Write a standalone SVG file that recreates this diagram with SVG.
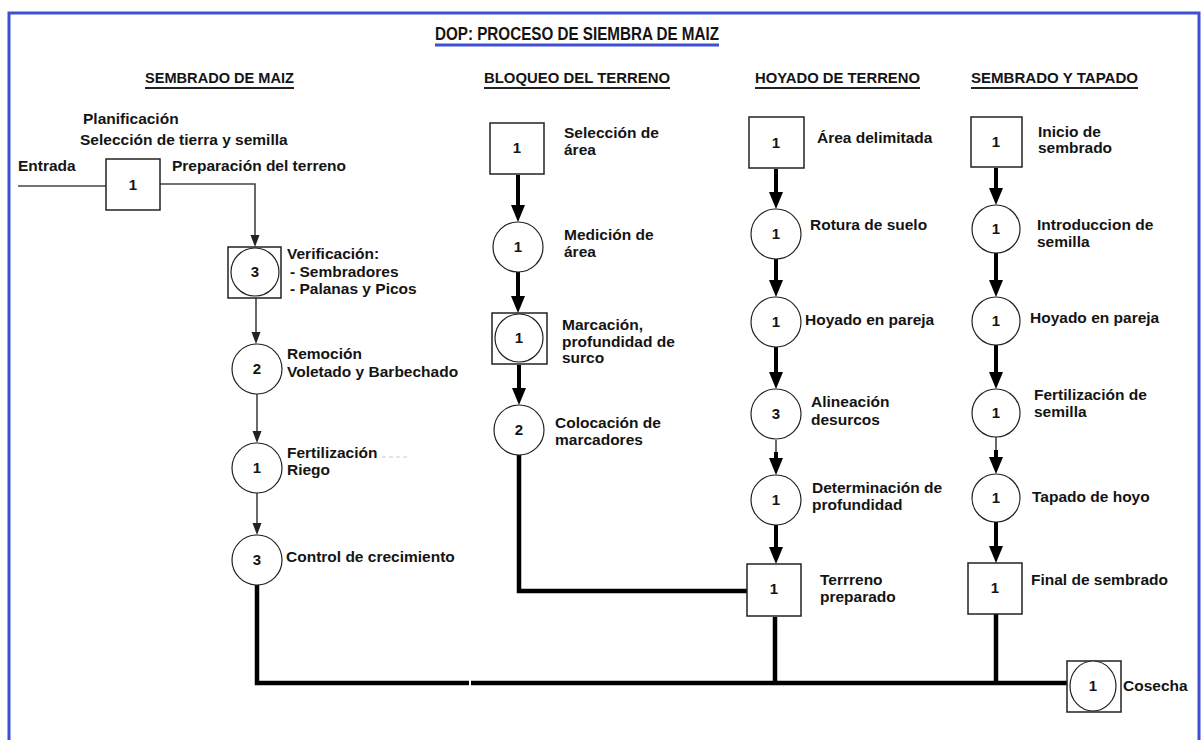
<svg xmlns="http://www.w3.org/2000/svg" xmlns:xlink="http://www.w3.org/1999/xlink" width="1202" height="740" viewBox="0 0 1202 740">
<style>
text{font-family:"Liberation Sans",Arial,sans-serif;font-weight:bold;fill:#141414}
.lbl{font-size:15.5px}
.num{font-size:15px;text-anchor:middle}
.hdr{font-size:15px}
.box{fill:#fff;stroke:#222;stroke-width:1.5}
.op{fill:#fff;stroke:#222;stroke-width:1.2}
.thin{fill:none;stroke:#444;stroke-width:1.6}
.thick{fill:none;stroke:#000;stroke-width:4}
.heavy{fill:none;stroke:#000;stroke-width:4.5}
.ul{stroke:#222;stroke-width:2}
</style>
<defs>
<path id="ahk" d="M-7,-17 L7,-17 L0,0 Z" fill="#000"/>
<path id="aht" d="M-4.5,-12 L4.5,-12 L0,0 Z" fill="#222"/>
</defs>
<rect x="0" y="0" width="1202" height="740" fill="#fff"/>
<path d="M9,750 V13 H1199 V750" fill="none" stroke="#3f4fd4" stroke-width="3"/>

<g id="title">
<text x="435" y="40" style="font-size:18px" textLength="284" lengthAdjust="spacingAndGlyphs">DOP: PROCESO DE SIEMBRA DE MAIZ</text>
<line x1="435" y1="45" x2="719" y2="45" stroke="#3f4fd4" stroke-width="3"/>
</g>
<g id="headers">
<text class="hdr" x="145" y="83" textLength="149" lengthAdjust="spacingAndGlyphs">SEMBRADO DE MAIZ</text>
<line class="ul" x1="145" y1="88" x2="294" y2="88"/>
<text class="hdr" x="484" y="83" textLength="186" lengthAdjust="spacingAndGlyphs">BLOQUEO DEL TERRENO</text>
<line class="ul" x1="484" y1="88" x2="670" y2="88"/>
<text class="hdr" x="755" y="83" textLength="165" lengthAdjust="spacingAndGlyphs">HOYADO DE TERRENO</text>
<line class="ul" x1="755" y1="88" x2="920" y2="88"/>
<text class="hdr" x="971" y="83" textLength="167" lengthAdjust="spacingAndGlyphs">SEMBRADO Y TAPADO</text>
<line class="ul" x1="971" y1="88" x2="1138" y2="88"/>
</g>

<g id="connectors">
<path class="thin" d="M18,186 H106"/>
<path class="thin" d="M160,184 H255 V236"/>
<use xlink:href="#aht" x="255" y="247"/>
<path class="thin" d="M256,298 V334"/>
<use xlink:href="#aht" x="256" y="344"/>
<path class="thin" d="M257,394 V433"/>
<use xlink:href="#aht" x="257" y="443"/>
<path class="thin" d="M257,493 V525"/>
<use xlink:href="#aht" x="257" y="535"/>
<path class="heavy" d="M257,585 V683 H469"/>
<path class="heavy" d="M471,683 H1067"/>

<path class="thick" d="M518,175 V206"/>
<use xlink:href="#ahk" x="518" y="222"/>
<path class="thick" d="M518,272 V297"/>
<use xlink:href="#ahk" x="518" y="313"/>
<path class="thick" d="M519,365 V390"/>
<use xlink:href="#ahk" x="519" y="405"/>
<path class="heavy" d="M519,455 V591 H747"/>

<path class="thick" d="M776,169 V194"/>
<use xlink:href="#ahk" x="776" y="209"/>
<path class="thick" d="M776,259 V282"/>
<use xlink:href="#ahk" x="776" y="297"/>
<path class="thick" d="M776,347 V374"/>
<use xlink:href="#ahk" x="776" y="389"/>
<path class="thin" d="M776,440 V452" stroke="#777" stroke-width="2.5"/>
<path class="thick" d="M776,452 V460"/>
<use xlink:href="#ahk" x="776" y="475"/>
<path class="thick" d="M776,525 V548"/>
<use xlink:href="#ahk" x="776" y="564"/>
<path class="heavy" d="M775,617 V683"/>

<path class="thick" d="M996,168 V190"/>
<use xlink:href="#ahk" x="996" y="205"/>
<path class="thick" d="M996,253 V282"/>
<use xlink:href="#ahk" x="996" y="297"/>
<path class="thick" d="M996,345 V374"/>
<use xlink:href="#ahk" x="996" y="389"/>
<path class="thin" d="M996,437 V450" stroke="#777" stroke-width="2.5"/>
<path class="thick" d="M996,450 V459"/>
<use xlink:href="#ahk" x="996" y="474"/>
<path class="thick" d="M996,522 V548"/>
<use xlink:href="#ahk" x="996" y="563"/>
<path class="heavy" d="M996,614 V683"/>
</g>

<g id="c1-inicio">
<text class="lbl" x="83" y="124">Planificación</text>
<text class="lbl" x="80" y="145">Selección de tierra y semilla</text>
<text class="lbl" x="18" y="171">Entrada</text>
<text class="lbl" x="172" y="171">Preparación del terreno</text>
<rect class="box" x="106" y="159" width="54" height="51"/>
<text class="num" x="133" y="190">1</text>
</g>
<g id="c1-verificacion">
<rect class="box" x="228" y="247" width="53" height="51"/>
<circle class="op" cx="255" cy="272" r="24"/>
<text class="num" x="255" y="277">3</text>
<text class="lbl" x="287" y="259">Verificación:</text>
<text class="lbl" x="290" y="277">- Sembradores</text>
<text class="lbl" x="290" y="294">- Palanas y Picos</text>
</g>
<g id="c1-remocion">
<circle class="op" cx="257" cy="369" r="25"/>
<text class="num" x="257" y="374">2</text>
<text class="lbl" x="287" y="359">Remoción</text>
<text class="lbl" x="287" y="377">Voletado y Barbechado</text>
</g>
<g id="c1-fertilizacion">
<circle class="op" cx="257" cy="468" r="25"/>
<text class="num" x="257" y="473">1</text>
<text class="lbl" x="287" y="458">Fertilización</text>
<line x1="382" y1="457" x2="410" y2="457" stroke="#ccc" stroke-width="1" stroke-dasharray="4 3"/>
<text class="lbl" x="287" y="475">Riego</text>
</g>
<g id="c1-control">
<circle class="op" cx="257" cy="560" r="25"/>
<text class="num" x="257" y="565">3</text>
<text class="lbl" x="286" y="562">Control de crecimiento</text>
</g>

<g id="c2-seleccion">
<rect class="box" x="490" y="123" width="54" height="51"/>
<text class="num" x="517" y="153">1</text>
<text class="lbl" x="564" y="138">Selección de</text>
<text class="lbl" x="564" y="155">área</text>
</g>
<g id="c2-medicion">
<circle class="op" cx="518" cy="247" r="25"/>
<text class="num" x="518" y="252">1</text>
<text class="lbl" x="564" y="240">Medición de</text>
<text class="lbl" x="564" y="257">área</text>
</g>
<g id="c2-marcacion">
<rect class="box" x="492" y="313" width="55" height="51"/>
<circle class="op" cx="519" cy="338" r="24"/>
<text class="num" x="519" y="343">1</text>
<text class="lbl" x="562" y="330">Marcación,</text>
<text class="lbl" x="562" y="347">profundidad de</text>
<text class="lbl" x="562" y="363">surco</text>
</g>
<g id="c2-colocacion">
<circle class="op" cx="519" cy="430" r="25"/>
<text class="num" x="519" y="435">2</text>
<text class="lbl" x="555" y="428">Colocación de</text>
<text class="lbl" x="555" y="445">marcadores</text>
</g>

<g id="c3-area">
<rect class="box" x="749" y="117" width="55" height="51"/>
<text class="num" x="776" y="148">1</text>
<text class="lbl" x="817" y="143">Área delimitada</text>
</g>
<g id="c3-rotura">
<circle class="op" cx="776" cy="234" r="25"/>
<text class="num" x="776" y="239">1</text>
<text class="lbl" x="810" y="230">Rotura de suelo</text>
</g>
<g id="c3-hoyado">
<circle class="op" cx="776" cy="322" r="25"/>
<text class="num" x="776" y="327">1</text>
<text class="lbl" x="805" y="325">Hoyado en pareja</text>
</g>
<g id="c3-alineacion">
<circle class="op" cx="776" cy="414" r="25"/>
<text class="num" x="776" y="419">3</text>
<text class="lbl" x="811" y="407">Alineación</text>
<text class="lbl" x="811" y="425">desurcos</text>
</g>
<g id="c3-determinacion">
<circle class="op" cx="776" cy="500" r="25"/>
<text class="num" x="776" y="505">1</text>
<text class="lbl" x="812" y="493">Determinación de</text>
<text class="lbl" x="812" y="510">profundidad</text>
</g>
<g id="c3-terreno">
<rect class="box" x="747" y="564" width="54" height="52"/>
<text class="num" x="774" y="594">1</text>
<text class="lbl" x="820" y="585">Terrreno</text>
<text class="lbl" x="820" y="602">preparado</text>
</g>

<g id="c4-inicio">
<rect class="box" x="971" y="117" width="51" height="50"/>
<text class="num" x="996" y="147">1</text>
<text class="lbl" x="1038" y="137">Inicio de</text>
<text class="lbl" x="1038" y="153">sembrado</text>
</g>
<g id="c4-introduccion">
<circle class="op" cx="996" cy="229" r="24"/>
<text class="num" x="996" y="234">1</text>
<text class="lbl" x="1037" y="230">Introduccion de</text>
<text class="lbl" x="1037" y="247">semilla</text>
</g>
<g id="c4-hoyado">
<circle class="op" cx="996" cy="321" r="24"/>
<text class="num" x="996" y="326">1</text>
<text class="lbl" x="1030" y="323">Hoyado en pareja</text>
</g>
<g id="c4-fertilizacion">
<circle class="op" cx="996" cy="413" r="24"/>
<text class="num" x="996" y="418">1</text>
<text class="lbl" x="1034" y="400">Fertilización de</text>
<text class="lbl" x="1034" y="417">semilla</text>
</g>
<g id="c4-tapado">
<circle class="op" cx="996" cy="498" r="24"/>
<text class="num" x="996" y="503">1</text>
<text class="lbl" x="1032" y="502">Tapado de hoyo</text>
</g>
<g id="c4-final">
<rect class="box" x="968" y="563" width="54" height="51"/>
<text class="num" x="995" y="593">1</text>
<text class="lbl" x="1031" y="585">Final de sembrado</text>
</g>

<g id="cosecha">
<rect class="box" x="1067" y="661" width="54" height="51"/>
<ellipse class="op" cx="1093" cy="686" rx="23" ry="25"/>
<text class="num" x="1093" y="691">1</text>
<text class="lbl" x="1123" y="691">Cosecha</text>
</g>
</svg>
